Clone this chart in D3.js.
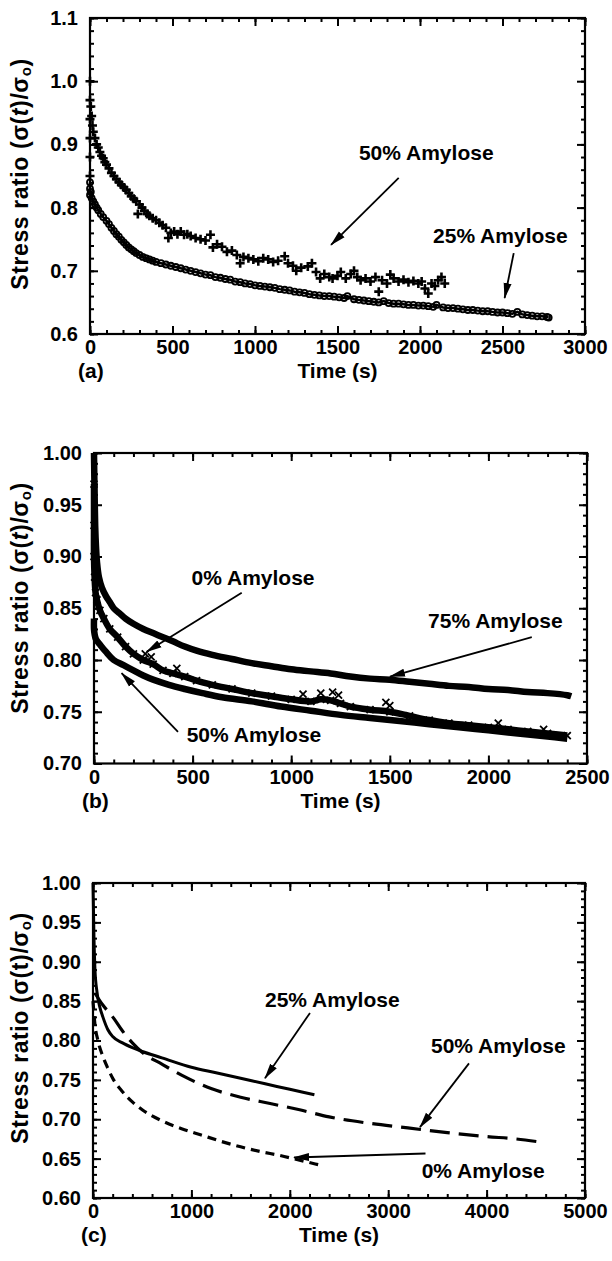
<!DOCTYPE html>
<html>
<head>
<meta charset="utf-8">
<script src="https://cdn.jsdelivr.net/npm/d3@7"></script>
<style>
  body { margin: 0; background: #fff; }
  text { font-family: "Liberation Sans", Arial, sans-serif; fill: #000; }
</style>
</head>
<body>
<div id="chart"></div>
<script>
//  ---------------  DATA  ---------------
// panel (a) : [time (s), stress ratio]
const a50Amylose = [[0,1.00],[0,0.97],[0,0.94],[0,0.91],[0,0.88],[0,0.85],[5,0.96],[10,0.945],[15,0.93],[20,0.92],
  [30,0.91],[40,0.90],[50,0.895],[60,0.888],[70,0.882],[80,0.878],[90,0.872],[100,0.868],[115,0.862],[130,0.855],
  [145,0.85],[160,0.845],[175,0.84],[190,0.836],[205,0.832],[220,0.828],[235,0.823],[250,0.818],[265,0.814],[280,0.81],
  [290,0.79],[300,0.805],[315,0.80],[330,0.795],[345,0.79],[360,0.787],[380,0.783],[400,0.78],[420,0.776],[440,0.772],
  [460,0.768],[475,0.752],[490,0.76],[510,0.762],[530,0.758],[550,0.762],[570,0.757],[590,0.758],[610,0.755],[640,0.752],
  [670,0.75],[700,0.748],[730,0.757],[745,0.737],[770,0.742],[800,0.738],[830,0.73],[860,0.732],[890,0.725],[910,0.712],
  [930,0.722],[960,0.72],[990,0.718],[1020,0.715],[1050,0.72],[1080,0.718],[1110,0.714],[1140,0.716],[1180,0.723],[1200,0.712],
  [1230,0.708],[1250,0.70],[1280,0.705],[1320,0.707],[1345,0.712],[1370,0.698],[1395,0.688],[1420,0.695],[1450,0.69],[1470,0.688],
  [1500,0.692],[1520,0.698],[1550,0.688],[1580,0.695],[1600,0.70],[1620,0.69],[1640,0.685],[1670,0.688],[1700,0.683],[1730,0.69],
  [1750,0.667],[1770,0.685],[1800,0.68],[1820,0.694],[1840,0.688],[1870,0.683],[1900,0.686],[1930,0.682],[1960,0.684],[1990,0.68],
  [2010,0.683],[2030,0.672],[2050,0.664],[2070,0.68],[2090,0.676],[2110,0.685],[2130,0.69],[2150,0.68]];

const a25Amylose = [[0,0.84],[0,0.83],[0,0.82],[5,0.825],[10,0.815],[20,0.81],[30,0.805],[40,0.80],[50,0.796],[65,0.79],
  [80,0.785],[100,0.779],[115,0.774],[130,0.768],[145,0.763],[160,0.758],[175,0.754],[190,0.749],[205,0.745],[220,0.741],
  [235,0.737],[250,0.734],[265,0.731],[280,0.728],[300,0.725],[320,0.722],[340,0.72],[360,0.718],[380,0.716],[400,0.714],
  [430,0.712],[460,0.71],[490,0.708],[520,0.706],[550,0.704],[580,0.702],[610,0.70],[640,0.698],[670,0.696],[700,0.694],
  [730,0.693],[760,0.69],[790,0.689],[820,0.687],[850,0.686],[880,0.683],[910,0.682],[940,0.68],[970,0.679],[1000,0.677],
  [1030,0.676],[1060,0.675],[1090,0.674],[1120,0.673],[1150,0.671],[1180,0.67],[1210,0.669],[1240,0.667],[1270,0.666],[1300,0.665],
  [1330,0.663],[1360,0.662],[1390,0.661],[1420,0.66],[1450,0.66],[1480,0.659],[1510,0.658],[1540,0.657],[1560,0.66],[1600,0.655],
  [1630,0.654],[1660,0.653],[1690,0.652],[1720,0.651],[1750,0.65],[1780,0.652],[1810,0.649],[1840,0.648],[1870,0.648],[1900,0.647],
  [1930,0.646],[1960,0.646],[1990,0.645],[2020,0.645],[2050,0.644],[2080,0.643],[2100,0.646],[2140,0.642],[2170,0.641],[2200,0.641],
  [2230,0.64],[2260,0.639],[2290,0.638],[2320,0.638],[2350,0.637],[2380,0.636],[2410,0.636],[2440,0.635],[2470,0.634],[2500,0.634],
  [2530,0.633],[2560,0.632],[2590,0.635],[2620,0.631],[2650,0.63],[2680,0.629],[2710,0.628],[2740,0.628],[2770,0.627],[2780,0.626]];

// panel (b)
const b75Amylose = [[0,1.0],[3,0.96],[6,0.93],[10,0.91],[15,0.895],[25,0.88],[40,0.87],[60,0.862],[80,0.856],[100,0.85],
  [130,0.845],[160,0.84],[200,0.835],[250,0.83],[300,0.826],[350,0.822],[400,0.818],[460,0.813],[520,0.809],[600,0.805],
  [700,0.801],[800,0.797],[900,0.794],[1000,0.791],[1100,0.789],[1200,0.787],[1300,0.784],[1400,0.782],[1500,0.781],[1600,0.779],
  [1700,0.777],[1800,0.775],[1900,0.774],[2000,0.772],[2100,0.771],[2200,0.769],[2300,0.768],[2400,0.766],[2420,0.765]];
const b0Amylose = [[0,0.97],[0,0.93],[0,0.90],[3,0.88],[8,0.865],[15,0.858],[30,0.848],[50,0.84],[80,0.83],[120,0.822],
  [160,0.813],[200,0.806],[250,0.80],[300,0.796],[350,0.79],[400,0.787],[460,0.784],[520,0.78],[600,0.776],[700,0.772],
  [800,0.768],[900,0.765],[1000,0.762],[1100,0.76],[1150,0.762],[1200,0.761],[1250,0.758],[1300,0.755],[1400,0.752],[1500,0.75],
  [1600,0.746],[1700,0.742],[1800,0.739],[1900,0.737],[2000,0.735],[2100,0.733],[2200,0.731],[2300,0.729],[2400,0.727]];
const b0Scatter = [[260,0.806],[290,0.803],[420,0.792],[1060,0.767],[1150,0.768],[1210,0.769],[1240,0.766],[1480,0.759],[1500,0.756],[2050,0.739],[2280,0.733]];
const b50Amylose = [[0,0.84],[0,0.83],[3,0.825],[10,0.82],[30,0.815],[60,0.808],[100,0.80],[150,0.795],[200,0.79],[250,0.785],
  [300,0.781],[380,0.776],[460,0.772],[550,0.768],[650,0.764],[800,0.76],[950,0.755],[1100,0.751],[1250,0.747],[1400,0.744],
  [1550,0.741],[1700,0.738],[1850,0.735],[2000,0.732],[2150,0.729],[2300,0.726],[2400,0.724]];

// panel (c)
const c25Amylose = [[0,1.0],[10,0.93],[20,0.89],[40,0.862],[70,0.842],[100,0.83],[150,0.814],[200,0.805],[300,0.797],[400,0.791],
  [500,0.786],[700,0.778],[1000,0.766],[1250,0.759],[1500,0.752],[1750,0.745],[2000,0.738],[2250,0.731]];
const c50Amylose = [[20,0.86],[100,0.845],[200,0.83],[300,0.812],[400,0.797],[500,0.785],[700,0.77],[900,0.756],[1200,0.739],[1500,0.728],
  [1800,0.72],[2100,0.712],[2400,0.703],[2800,0.695],[3200,0.689],[3600,0.683],[4000,0.678],[4300,0.675],[4550,0.671]];
const c0Amylose = [[0,0.85],[20,0.82],[50,0.80],[100,0.78],[150,0.765],[200,0.752],[300,0.735],[400,0.722],[500,0.712],[700,0.698],
  [900,0.688],[1100,0.68],[1300,0.672],[1500,0.665],[1700,0.659],[1900,0.654],[2100,0.648],[2300,0.642]];

// tick labels
const aXTicks = [0, 500, 1000, 1500, 2000, 2500, 3000];
const aYTicks = [0.6, 0.7, 0.8, 0.9, 1.0, 1.1];
const bXTicks = [0, 500, 1000, 1500, 2000, 2500];
const bYTicks = [0.70, 0.75, 0.80, 0.85, 0.90, 0.95, 1.00];
const cXTicks = [0, 1000, 2000, 3000, 4000, 5000];
const cYTicks = [0.60, 0.65, 0.70, 0.75, 0.80, 0.85, 0.90, 0.95, 1.00];

//  ---------------  SVG  ---------------
const w = 612, h = 1261;
const svg = d3.select("#chart").append("svg").attr("width", w).attr("height", h);

svg.append("defs").append("marker")
  .attr("id", "arrow")
  .attr("markerUnits", "userSpaceOnUse")
  .attr("markerWidth", 16).attr("markerHeight", 10)
  .attr("refX", 15).attr("refY", 5)
  .attr("orient", "auto")
  .append("path").attr("d", "M0,1 L16,5 L0,9 Z").attr("fill", "#000");

function panel(p) {
  const x = d3.scaleLinear().domain([0, p.xTicks[p.xTicks.length - 1]]).range([p.left, p.right]);
  const y = d3.scaleLinear().domain([p.yTicks[0], p.yTicks[p.yTicks.length - 1]]).range([p.bottom, p.top]);
  const g = svg.append("g");

  const xMinor = d3.range(0, x.domain()[1] + 1e-9, p.xMinor);
  const yMinor = d3.range(0, Math.round((y.domain()[1] - y.domain()[0]) / p.yMinor) + 1)
    .map((i) => y.domain()[0] + i * p.yMinor);

  // minor ticks on four sides
  const minor = [
    [d3.axisBottom(x).tickValues(xMinor), `translate(0,${p.bottom})`],
    [d3.axisTop(x).tickValues(xMinor), `translate(0,${p.top})`],
    [d3.axisLeft(y).tickValues(yMinor), `translate(${p.left},0)`],
    [d3.axisRight(y).tickValues(yMinor), `translate(${p.right},0)`]
  ];
  minor.forEach(([ax, tr]) => {
    g.append("g").attr("transform", tr)
      .call(ax.tickSize(-4).tickSizeOuter(0).tickFormat(""))
      .call((s) => s.select(".domain").remove())
      .selectAll("line").attr("stroke-width", 1.6);
  });

  // major ticks, labelled bottom and left
  const xAxis = g.append("g").attr("transform", `translate(0,${p.bottom})`)
    .call(d3.axisBottom(x).tickValues(p.xTicks).tickSize(-8).tickSizeOuter(0).tickPadding(6).tickFormat(d3.format("d")));
  const yAxis = g.append("g").attr("transform", `translate(${p.left},0)`)
    .call(d3.axisLeft(y).tickValues(p.yTicks).tickSize(-8).tickSizeOuter(0).tickPadding(12).tickFormat(d3.format(p.yFmt)));
  g.append("g").attr("transform", `translate(0,${p.top})`)
    .call(d3.axisTop(x).tickValues(p.xTicks).tickSize(-8).tickSizeOuter(0).tickFormat(""));
  g.append("g").attr("transform", `translate(${p.right},0)`)
    .call(d3.axisRight(y).tickValues(p.yTicks).tickSize(-8).tickSizeOuter(0).tickFormat(""));
  g.selectAll(".domain").remove();
  g.selectAll(".tick line").attr("stroke", "#000").attr("stroke-width", 2);
  [xAxis, yAxis].forEach((a) => a.selectAll("text")
    .attr("font-family", "Liberation Sans, Arial, sans-serif")
    .attr("font-size", 20).attr("font-weight", "bold"));

  g.append("rect")
    .attr("x", p.left).attr("y", p.top)
    .attr("width", p.right - p.left).attr("height", p.bottom - p.top)
    .attr("fill", "none").attr("stroke", "#000").attr("stroke-width", 2.2);

  // axis titles
  g.append("text")
    .attr("x", (p.left + p.right) / 2).attr("y", p.bottom + 44)
    .attr("text-anchor", "middle").attr("font-size", 21).attr("font-weight", "bold")
    .text("Time (s)");
  g.append("text")
    .attr("x", p.left - 12).attr("y", p.bottom + 44)
    .attr("font-size", 21).attr("font-weight", "bold")
    .text(p.letter);

  const yl = g.append("text")
    .attr("transform", `translate(20,${p.labelY}) rotate(-90)`)
    .attr("text-anchor", "middle").attr("dominant-baseline", "central")
    .attr("font-size", 23).attr("font-weight", "bold").attr("letter-spacing", 0.6);
  yl.append("tspan").text("Stress ratio (σ(");
  yl.append("tspan").attr("font-style", p.italicT ? "italic" : "normal").text("t");
  yl.append("tspan").text(")/σ");
  yl.append("tspan").attr("font-size", 15).attr("dy", 5).text("o");
  yl.append("tspan").attr("dy", -5).text(")");

  return { g, x, y };
}

function annotate(pp, label, lx, ly, from, to) {
  pp.g.append("text")
    .attr("x", pp.x(lx)).attr("y", pp.y(ly))
    .attr("font-size", 21).attr("font-weight", "bold")
    .text(label);
  pp.g.append("line")
    .attr("x1", pp.x(from[0])).attr("y1", pp.y(from[1]))
    .attr("x2", pp.x(to[0])).attr("y2", pp.y(to[1]))
    .attr("stroke", "#000").attr("stroke-width", 1.8)
    .attr("marker-end", "url(#arrow)");
}

//  ---------------  PANEL (a)  ---------------
const pa = panel({ left: 90, right: 585, top: 18, bottom: 334, xTicks: aXTicks, yTicks: aYTicks,
  xMinor: 100, yMinor: 0.02, yFmt: ".1f", letter: "(a)", labelY: 174, italicT: true });

const aLine = d3.line().x((d) => pa.x(d[0])).y((d) => pa.y(d[1]));
pa.g.append("path").attr("d", aLine(a25Amylose)).attr("fill", "none")
  .attr("stroke", "#000").attr("stroke-width", 2.5);
pa.g.append("g").selectAll("circle").data(a25Amylose).enter().append("circle")
  .attr("cx", (d) => pa.x(d[0])).attr("cy", (d) => pa.y(d[1])).attr("r", 3)
  .attr("fill", "none").attr("stroke", "#000").attr("stroke-width", 1.8);
pa.g.append("g").selectAll("path").data(a50Amylose).enter().append("path")
  .attr("transform", (d) => `translate(${pa.x(d[0])},${pa.y(d[1])})`)
  .attr("d", "M-4.5,0H4.5M0,-4.5V4.5").attr("stroke", "#000").attr("stroke-width", 2.6);

annotate(pa, "50% Amylose", 1630, 0.875, [1871, 0.847], [1461, 0.741]);
annotate(pa, "25% Amylose", 2079, 0.744, [2568, 0.728], [2513, 0.657]);

//  ---------------  PANEL (b)  ---------------
const pb = panel({ left: 94, right: 587, top: 453, bottom: 763.5, xTicks: bXTicks, yTicks: bYTicks,
  xMinor: 100, yMinor: 0.01, yFmt: ".2f", letter: "(b)", labelY: 598, italicT: true });

const bandLine = d3.line().x((d) => pb.x(d[0])).y((d) => pb.y(d[1])).curve(d3.curveCatmullRom);
[b75Amylose, b0Amylose, b50Amylose].forEach((s) => {
  pb.g.append("path").attr("d", bandLine(s)).attr("fill", "none")
    .attr("stroke", "#000").attr("stroke-width", 6.5).attr("stroke-linejoin", "round");
});
pb.g.append("g").selectAll("path").data(b0Scatter.concat(b0Amylose)).enter().append("path")
  .attr("transform", (d) => `translate(${pb.x(d[0])},${pb.y(d[1])})`)
  .attr("d", "M-3.5,-3.5L3.5,3.5M-3.5,3.5L3.5,-3.5").attr("stroke", "#000").attr("stroke-width", 1.8);

annotate(pb, "0% Amylose", 495, 0.872, [749, 0.865], [267, 0.808]);
annotate(pb, "75% Amylose", 1694, 0.831, [2220, 0.822], [1501, 0.784]);
annotate(pb, "50% Amylose", 470, 0.721, [426, 0.7305], [140, 0.7872]);

//  ---------------  PANEL (c)  ---------------
const pc = panel({ left: 93, right: 585, top: 883, bottom: 1198, xTicks: cXTicks, yTicks: cYTicks,
  xMinor: 200, yMinor: 0.01, yFmt: ".2f", letter: "(c)", labelY: 1028, italicT: false });

const cLine = d3.line().x((d) => pc.x(d[0])).y((d) => pc.y(d[1])).curve(d3.curveMonotoneX);
pc.g.append("path").attr("d", cLine(c25Amylose)).attr("fill", "none")
  .attr("stroke", "#000").attr("stroke-width", 3);
pc.g.append("path").attr("d", cLine(c50Amylose)).attr("fill", "none")
  .attr("stroke", "#000").attr("stroke-width", 3.2).attr("stroke-dasharray", "20,9");
pc.g.append("path").attr("d", cLine(c0Amylose)).attr("fill", "none")
  .attr("stroke", "#000").attr("stroke-width", 3.2).attr("stroke-dasharray", "9,6");

annotate(pc, "25% Amylose", 1748, 0.842, [2205, 0.835], [1748, 0.752]);
annotate(pc, "50% Amylose", 3435, 0.784, [3821, 0.771], [3323, 0.690]);
annotate(pc, "0% Amylose", 3340, 0.625, [3379, 0.6565], [2043, 0.6514]);
</script>
</body>
</html>
